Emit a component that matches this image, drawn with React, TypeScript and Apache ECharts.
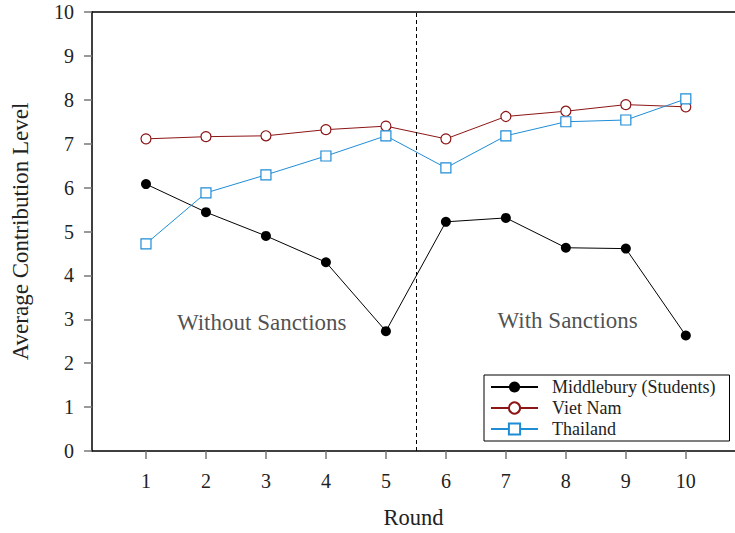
import React, { useEffect, useRef } from "react";
import * as echarts from "echarts";

const rounds = [1, 2, 3, 4, 5, 6, 7, 8, 9, 10];
const middlebury = [6.08, 5.44, 4.9, 4.3, 2.73, 5.22, 5.31, 4.63, 4.61, 2.63];
const vietNam = [7.11, 7.16, 7.18, 7.32, 7.4, 7.11, 7.62, 7.74, 7.89, 7.84];
const thailand = [4.72, 5.88, 6.29, 6.72, 7.18, 6.45, 7.18, 7.5, 7.54, 8.02];
const dividerRound = 5.5;
const annotations: [number, number, string][] = [
  [2.93, 2.93, "Without Sanctions"],
  [8.03, 2.98, "With Sanctions"],
];

const FONT = "Liberation Serif";

export default function App() {
  const ref = useRef<HTMLDivElement>(null);
  useEffect(() => {
    if (!ref.current) return;
    const chart = echarts.init(ref.current, null, { renderer: "svg" });
    const pair = (arr: number[]) => rounds.map((r, i) => [r, arr[i]]);
    chart.setOption({
      animation: false,
      backgroundColor: "#fff",
      textStyle: { fontFamily: FONT },
      grid: { left: 92, top: 12, right: 0, bottom: 82, outerBoundsMode: "none", containLabel: false },
      xAxis: [
        {
          type: "value",
          min: 0.1,
          max: 10.82,
          name: "Round",
          nameLocation: "middle",
          nameGap: 55,
          nameTextStyle: { fontFamily: FONT, fontSize: 22.5, color: "#222" },
          axisLine: { show: true, onZero: false, lineStyle: { color: "#000", width: 1.5 } },
          axisTick: { show: true, length: 8, customValues: rounds, lineStyle: { color: "#777", width: 1.5 } },
          axisLabel: { customValues: rounds, fontFamily: FONT, fontSize: 20, color: "#222", margin: 20 },
          splitLine: { show: false },
        },
        {
          type: "value",
          position: "top",
          min: 0.1,
          max: 10.82,
          axisLine: { show: true, onZero: false, lineStyle: { color: "#000", width: 1.5 } },
          axisTick: { show: false },
          axisLabel: { show: false },
          splitLine: { show: false },
        },
      ],
      yAxis: {
        type: "value",
        min: 0,
        max: 10,
        interval: 1,
        name: "Average Contribution Level",
        nameLocation: "middle",
        nameGap: 60,
        nameTextStyle: { fontFamily: FONT, fontSize: 23, color: "#222" },
        axisLine: { show: true, onZero: false, lineStyle: { color: "#000", width: 1.5 } },
        axisTick: { show: true, length: 8, lineStyle: { color: "#777", width: 1.5 } },
        axisLabel: { fontFamily: FONT, fontSize: 20, color: "#222", margin: 18 },
        splitLine: { show: false },
      },
      legend: {
        left: 484,
        top: 375,
        orient: "vertical",
        data: ["Middlebury (Students)", "Viet Nam", "Thailand"],
        itemWidth: 47,
        itemHeight: 14,
        itemGap: 3,
        padding: [3, 14, 3, 6],
        borderColor: "#000",
        borderWidth: 1,
        borderRadius: 0,
        backgroundColor: "#fff",
        textStyle: { fontFamily: FONT, fontSize: 18, color: "#222", padding: [0, 0, 0, 9] },
      },
      series: [
        {
          name: "Middlebury (Students)",
          type: "line",
          data: pair(middlebury),
          symbol: "circle",
          symbolSize: 10,
          lineStyle: { color: "#000", width: 1 },
          itemStyle: { color: "#000" },
          markLine: {
            silent: true,
            symbol: ["none", "none"],
            label: { show: false },
            lineStyle: { color: "#000", type: [4, 3], width: 1 },
            data: [{ xAxis: dividerRound }],
          },
          z: 3,
        },
        {
          name: "Viet Nam",
          type: "line",
          data: pair(vietNam),
          symbol: "circle",
          symbolSize: 10,
          lineStyle: { color: "#8c1515", width: 1 },
          itemStyle: { color: "#fff", borderColor: "#8c1515", borderWidth: 1.2 },
          z: 2,
        },
        {
          name: "Thailand",
          type: "line",
          data: pair(thailand),
          symbol: "rect",
          symbolSize: 10,
          lineStyle: { color: "#1f8dd6", width: 1 },
          itemStyle: { color: "#fff", borderColor: "#1f8dd6", borderWidth: 1.2 },
          z: 4,
        },
        {
          name: "annotations",
          type: "scatter",
          data: annotations,
          symbolSize: 1,
          itemStyle: { color: "transparent" },
          label: {
            show: true,
            position: "inside",
            formatter: (p: any) => p.value[2],
            fontFamily: FONT,
            fontSize: 23,
            color: "#222",
          },
          silent: true,
        },
      ],
    });
    return () => chart.dispose();
  }, []);
  return <div ref={ref} style={{ width: 735, height: 533, position: "absolute", left: 0, top: 0 }} />;
}
